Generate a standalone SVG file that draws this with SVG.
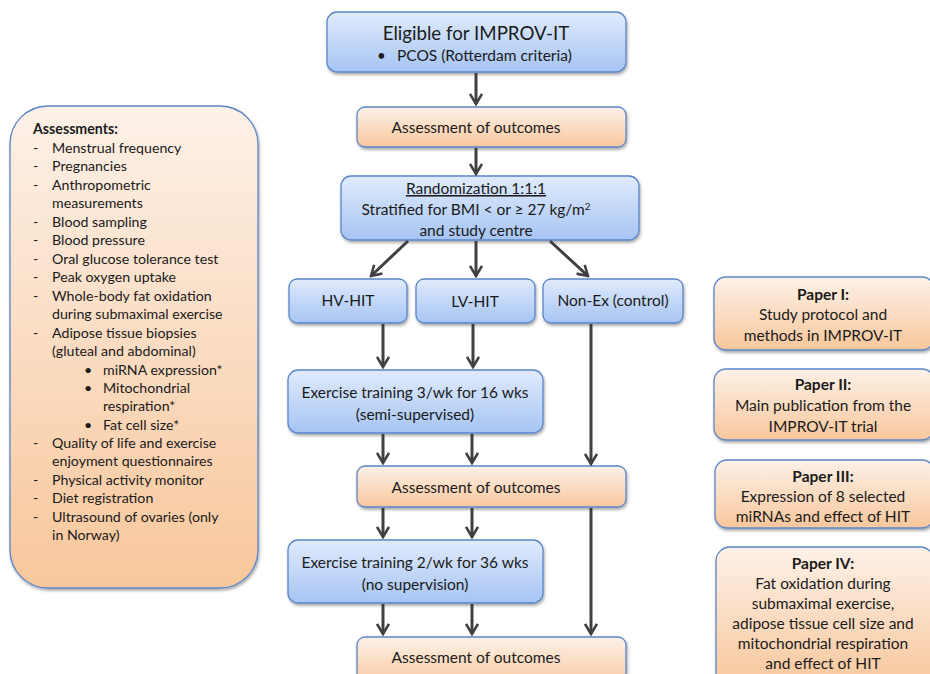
<svg xmlns="http://www.w3.org/2000/svg" width="930" height="674" viewBox="0 0 930 674">
<defs>
<linearGradient id="gb" x1="0" y1="0" x2="0" y2="1"><stop offset="0" stop-color="#e1ebfc"/><stop offset="1" stop-color="#a6c4f3"/></linearGradient>
<linearGradient id="go" x1="0" y1="0" x2="0" y2="1"><stop offset="0" stop-color="#fdf1e8"/><stop offset="1" stop-color="#f8c79c"/></linearGradient>
<filter id="sh" x="-10%" y="-10%" width="120%" height="130%"><feDropShadow dx="1" dy="2" stdDeviation="1.5" flood-color="#000" flood-opacity="0.35"/></filter>
<marker id="arr" viewBox="0 0 14 14" refX="12" refY="7" markerWidth="14" markerHeight="14" orient="auto" markerUnits="userSpaceOnUse"><path d="M2,1 L12,7 L2,13" fill="none" stroke="#404040" stroke-width="2.6" stroke-linejoin="miter"/></marker>
</defs>
<style>
.b{fill:url(#gb);stroke:#5a86c8;stroke-width:1.3;filter:url(#sh)}
.o{fill:url(#go);stroke:#5a86c8;stroke-width:1.3;filter:url(#sh)}
text{font-family:Lato,"Open Sans","Liberation Sans",sans-serif;fill:#1a1a1a}
.c{text-anchor:middle;font-size:15.5px}
.l{font-size:14.2px}
.p{font-size:15.5px}
.bold{font-weight:bold}
.cn line{stroke:#404040;stroke-width:3;marker-end:url(#arr)}
</style>

<g id="eligible">
<rect class="b" x="327" y="12" width="299" height="60" rx="10"/>
<text class="c" x="476" y="40" style="font-size:18.7px">Eligible for IMPROV-IT</text>
<text x="377" y="61" style="font-size:15px">•</text>
<text x="397" y="61" style="font-size:15.5px">PCOS (Rotterdam criteria)</text>
</g>

<g id="assess1">
<rect class="o" x="357" y="107" width="269" height="40" rx="8"/>
<text class="c" x="476" y="133">Assessment of outcomes</text>
</g>

<g id="random">
<rect class="b" x="341" y="176" width="298" height="64" rx="10"/>
<text class="c" x="476" y="194" text-decoration="underline">Randomization 1:1:1</text>
<text class="c" x="476" y="215">Stratified for BMI &lt; or ≥ 27 kg/m<tspan dy="-5" style="font-size:10px">2</tspan></text>
<text class="c" x="476" y="236">and study centre</text>
</g>

<g id="hv">
<rect class="b" x="289" y="279" width="118" height="44" rx="8"/>
<text class="c" x="348" y="306">HV-HIT</text>
</g>
<g id="lv">
<rect class="b" x="416" y="279" width="119" height="44" rx="8"/>
<text class="c" x="475" y="307">LV-HIT</text>
</g>
<g id="nonex">
<rect class="b" x="543" y="279" width="140" height="44" rx="8"/>
<text class="c" x="613" y="306">Non-Ex (control)</text>
</g>

<g id="train1">
<rect class="b" x="288" y="370" width="255" height="63" rx="10"/>
<text class="c" x="415" y="398">Exercise training 3/wk for 16 wks</text>
<text class="c" x="415" y="420">(semi-supervised)</text>
</g>

<g id="assess2">
<rect class="o" x="357" y="466" width="269" height="41" rx="8"/>
<text class="c" x="476" y="493">Assessment of outcomes</text>
</g>

<g id="train2">
<rect class="b" x="288" y="540" width="255" height="63" rx="10"/>
<text class="c" x="415" y="568">Exercise training 2/wk for 36 wks</text>
<text class="c" x="415" y="590">(no supervision)</text>
</g>

<g id="assess3">
<rect class="o" x="357" y="637" width="269" height="50" rx="8"/>
<text class="c" x="476" y="663">Assessment of outcomes</text>
</g>

<g id="assessments">
<rect class="o" x="10" y="106" width="248" height="482" rx="38"/>
<text class="l bold" x="33" y="134">Assessments:</text>
<g class="l">
<text x="33" y="153">-</text><text x="52" y="153">Menstrual frequency</text>
<text x="33" y="171">-</text><text x="52" y="171">Pregnancies</text>
<text x="33" y="190">-</text><text x="52" y="190">Anthropometric</text>
<text x="52" y="208">measurements</text>
<text x="33" y="227">-</text><text x="52" y="227">Blood sampling</text>
<text x="33" y="245">-</text><text x="52" y="245">Blood pressure</text>
<text x="33" y="264">-</text><text x="52" y="264">Oral glucose tolerance test</text>
<text x="33" y="282">-</text><text x="52" y="282">Peak oxygen uptake</text>
<text x="33" y="301">-</text><text x="52" y="301">Whole-body fat oxidation</text>
<text x="52" y="319">during submaximal exercise</text>
<text x="33" y="338">-</text><text x="52" y="338">Adipose tissue biopsies</text>
<text x="52" y="356">(gluteal and abdominal)</text>
<text x="84" y="375">•</text><text x="103" y="375">miRNA expression*</text>
<text x="84" y="393">•</text><text x="103" y="393">Mitochondrial</text>
<text x="103" y="411">respiration*</text>
<text x="84" y="430">•</text><text x="103" y="430">Fat cell size*</text>
<text x="33" y="448">-</text><text x="52" y="448">Quality of life and exercise</text>
<text x="52" y="466">enjoyment questionnaires</text>
<text x="33" y="485">-</text><text x="52" y="485">Physical activity monitor</text>
<text x="33" y="503">-</text><text x="52" y="503">Diet registration</text>
<text x="33" y="522">-</text><text x="52" y="522">Ultrasound of ovaries (only</text>
<text x="52" y="540">in Norway)</text>
</g>
</g>

<g id="paper1">
<rect class="o" x="714" y="277" width="220" height="73" rx="12"/>
<text class="c bold p" x="823" y="300">Paper I:</text>
<text class="c p" x="823" y="320">Study protocol and</text>
<text class="c p" x="823" y="341">methods in IMPROV-IT</text>
</g>
<g id="paper2">
<rect class="o" x="714" y="369" width="220" height="71" rx="12"/>
<text class="c bold p" x="823" y="390">Paper II:</text>
<text class="c p" x="823" y="411">Main publication from the</text>
<text class="c p" x="823" y="432">IMPROV-IT trial</text>
</g>
<g id="paper3">
<rect class="o" x="715" y="460" width="219" height="68" rx="12"/>
<text class="c bold p" x="823" y="482">Paper III:</text>
<text class="c p" x="823" y="502">Expression of 8 selected</text>
<text class="c p" x="823" y="522">miRNAs and effect of HIT</text>
</g>
<g id="paper4">
<rect class="o" x="716" y="547" width="218" height="140" rx="14"/>
<text class="c bold p" x="823" y="569">Paper IV:</text>
<text class="c p" x="823" y="589">Fat oxidation during</text>
<text class="c p" x="823" y="609">submaximal exercise,</text>
<text class="c p" x="823" y="629">adipose tissue cell size and</text>
<text class="c p" x="823" y="649">mitochondrial respiration</text>
<text class="c p" x="823" y="669">and effect of HIT</text>
</g>

<g id="connectors" class="cn">
<line x1="476" y1="73" x2="476" y2="104"/>
<line x1="476" y1="148" x2="476" y2="174"/>
<line x1="408" y1="241" x2="371" y2="276"/>
<line x1="476" y1="241" x2="476" y2="276"/>
<line x1="550" y1="241" x2="588" y2="276"/>
<line x1="383" y1="324" x2="383" y2="367"/>
<line x1="473" y1="324" x2="473" y2="367"/>
<line x1="591" y1="324" x2="591" y2="464"/>
<line x1="383" y1="434" x2="383" y2="463"/>
<line x1="472" y1="434" x2="472" y2="463"/>
<line x1="383" y1="508" x2="383" y2="537"/>
<line x1="472" y1="508" x2="472" y2="537"/>
<line x1="383" y1="604" x2="383" y2="634"/>
<line x1="472" y1="604" x2="472" y2="634"/>
<line x1="591" y1="508" x2="591" y2="634"/>
</g>
</svg>
